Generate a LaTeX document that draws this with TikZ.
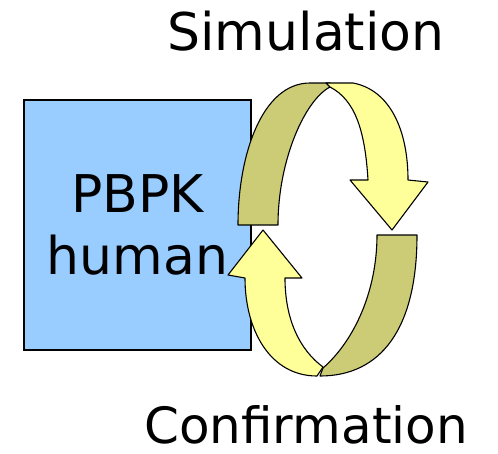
\documentclass[tikz,border=0pt]{standalone}
\usepackage{fontspec}
\setmainfont{DejaVu Sans}
\definecolor{boxblue}{HTML}{99CCFF}
\definecolor{backside}{HTML}{CCCC77}
\definecolor{frontside}{HTML}{FFFF99}

\begin{document}
\begin{tikzpicture}[x=1pt,y=-1pt,inner sep=0pt,outer sep=0pt,
	label/.style={anchor=base,font=\fontsize{52}{62}\selectfont},
	band/.style={draw=black,line width=1.1pt,line join=round}]
	\useasboundingbox (0,0) rectangle (498,453);

	\node[draw = black, line width=1.1pt, fill=boxblue, minimum width=227pt, minimum height=250pt, align=center, font=\fontsize{52}{62}\selectfont] at (137.5,225) (pbpk) {PBPK\\human};

	\node[label] at (306,50) (simulation) {Simulation};
	\node[label,font=\fontsize{50}{60}\selectfont] at (306,443) (confirmation) {Confirmation};

	% upper arrow
	\draw[band,fill=backside] (238,225) .. controls (238,155) and (262,83) .. (310,83) -- (330,83) -- (330,87) .. controls (305,100) and (278,160) .. (278,225) -- cycle;
	\draw[band,fill=frontside] (330,87) -- (326,83) -- (353,83) .. controls (390,90) and (408,130) .. (408,180) -- (428,182) -- (392,230) -- (350,180) -- (368,180) .. controls (365,130) and (355,100) .. cycle;

	% lower arrow
	\draw[band,fill=backside] (377,235) -- (417,235) .. controls (417,330) and (380,376) .. (320,376) -- (323,368) .. controls (355,340) and (377,290) .. cycle;
	\draw[band,fill=frontside] (323,367) -- (317,376) .. controls (270,376) and (245,330) .. (245,278) -- (228,275) -- (263,230) -- (302,278) -- (285,278) .. controls (285,320) and (300,350) .. cycle;
\end{tikzpicture}
\end{document}
